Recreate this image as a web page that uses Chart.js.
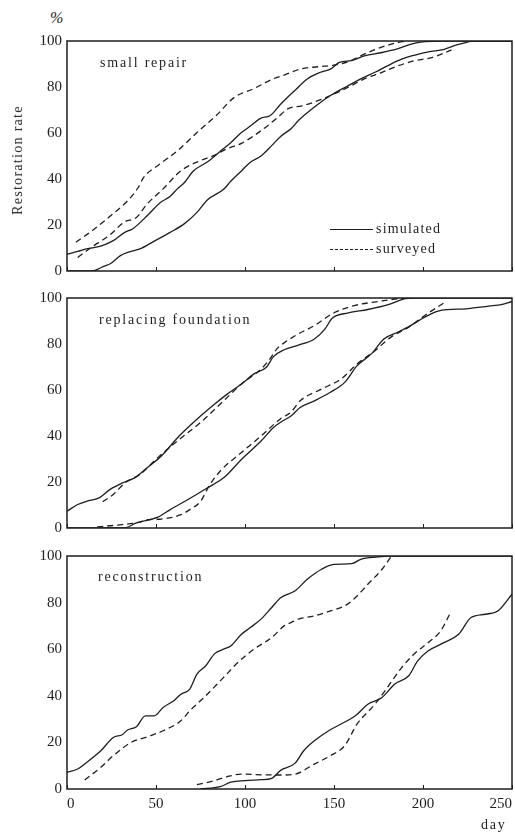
<!DOCTYPE html>
<html>
<head>
<meta charset="utf-8">
<script src="https://cdn.jsdelivr.net/npm/chart.js@4.4.1/dist/chart.umd.min.js"></script>
<style>
  body { margin: 0; background: #fff; width: 515px; height: 832px; position: relative; overflow: hidden;
         font-family: "Liberation Serif", "DejaVu Serif", serif; color: #1e1e1e; }
  canvas { position: absolute; left: 0; }
  .txt { position: absolute; font-size: 14px; line-height: 14px; letter-spacing: 1.8px; white-space: nowrap; }
  .ytitle { position: absolute; left: 18px; top: 160px; font-size: 14px; line-height: 14px; letter-spacing: 1.3px;
            white-space: nowrap; transform: translate(-50%, -50%) rotate(-90deg); }
  .swatch { position: absolute; left: 330px; width: 43px; height: 0; border-top: 1.3px solid #1e1e1e; }
  .swatch.dash { border-top: 1.4px dashed #1e1e1e; }
</style>
</head>
<body>
<canvas id="c1" width="515" height="250" style="top:30px"></canvas>
<canvas id="c2" width="515" height="252" style="top:285px"></canvas>
<canvas id="c3" width="515" height="287" style="top:545px"></canvas>

<div class="txt" style="left:50px;top:11px;font-size:16px;letter-spacing:0;font-style:italic">%</div>
<div class="ytitle">Restoration rate</div>
<div class="txt" style="left:100px;top:56px">small repair</div>
<div class="txt" style="left:99px;top:313px">replacing foundation</div>
<div class="txt" style="left:98px;top:570px">reconstruction</div>
<div class="swatch" style="top:229px"></div>
<div class="txt" style="left:376px;top:222px;letter-spacing:1.2px">simulated</div>
<div class="swatch dash" style="top:249px"></div>
<div class="txt" style="left:376px;top:242px;letter-spacing:1.2px">surveyed</div>
<div class="txt" style="left:481px;top:818px">day</div>

<script>
// axis ticks
const dayTicks = [0, 50, 100, 150, 200, 250];
const rateTicks = [0, 20, 40, 60, 80, 100];

// small repair: [day, restoration rate %]
const repairSimEarly = [[0,7.3],[6,8.5],[11,9.6],[19,10.8],[26,13.2],[32,16.6],[37,18.4],[45,24],[52,29.5],[58,32.5],[62,35.7],[66,38.5],[71,43.5],[79,47.5],[86,52],[92,55.8],[98,60.2],[103,63],[109,66.5],[114,67.5],[120,72.5],[128,78.5],[135,83.5],[142,86.3],[148,87.8],[153,90.7],[160,91.5],[167,93.5],[177,95],[186,96.7],[195,99],[201,99.7],[210,100],[250,100]];
const repairSimLate = [[0,0],[14,0],[20,1.8],[25,3.5],[30,6.7],[35,8.3],[41,9.6],[49,13],[58,16.8],[66,20.6],[73,25.5],[79,31],[88,35.5],[92,39],[98,43.5],[103,47.3],[109,50],[115,54.5],[120,58.5],[126,62],[130,65.4],[139,71.3],[148,76.3],[158,80.6],[165,83.5],[173,86.4],[180,89.2],[188,92.1],[195,93.8],[203,95.3],[212,96.4],[218,98.1],[224,99.3],[228,100],[250,100]];
const repairSurvEarly = [[5,12.5],[15,18],[24,23.7],[34,30.5],[40,36.3],[43,40.6],[52,46.4],[62,52.2],[73,60.2],[84,67.7],[94,75.5],[105,79.3],[116,83.6],[122,85.2],[131,87.8],[141,88.8],[150,89.5],[158,91],[167,94.3],[176,97.1],[184,99],[190,100]];
const repairSurvLate = [[6,5.9],[15,11],[24,15.6],[32,21.2],[39,23.3],[45,29.1],[54,35.7],[64,43.6],[75,48],[83,50.4],[90,53.2],[98,55.5],[109,61],[118,66.5],[124,70.5],[132,71.8],[139,73.5],[148,76.3],[158,79.9],[167,83.5],[177,86.4],[186,89.2],[195,91.4],[205,92.8],[216,96.1]];

// replacing foundation
const foundSimEarly = [[0,7.3],[6,10.2],[11,11.6],[18,13.1],[24,16.7],[32,19.9],[38,21.8],[45,26.2],[53,31.3],[63,40],[73,47.3],[83,53.9],[90,58.2],[98,62.6],[105,67],[112,69.9],[116,74.5],[122,77.5],[130,79.5],[139,82.2],[145,86.6],[149,91.2],[158,93.5],[169,95],[180,97],[190,99.7],[195,100],[250,100]];
const foundSimLate = [[0,0],[32,0],[39,2.2],[51,4.7],[58,8],[68,12.4],[79,17.5],[88,21.8],[98,29.8],[109,37.8],[116,43.7],[120,46],[126,48.8],[131,52.4],[139,55.3],[148,59],[156,63.3],[163,70.6],[171,75.7],[178,82.2],[186,85.2],[193,88],[201,91.7],[210,94.6],[224,95.3],[237,96.5],[244,97.1],[250,98.5]];
const foundSurvEarly = [[20,11.4],[26,14.6],[33,19.9],[41,23.3],[51,30.6],[62,37.8],[75,45.9],[88,55.3],[98,62.6],[109,69.1],[114,73.5],[118,78],[122,80.5],[130,84.4],[139,88],[150,93.6],[162,96.8],[175,98.5],[186,99.7],[192,100]];
const foundSurvLate = [[17,0.5],[30,1.4],[41,2.6],[45,3.6],[53,3.9],[64,5.8],[69,8],[75,11.6],[80,18.5],[86,24.7],[98,32.8],[109,40],[120,47.5],[126,50.5],[131,55.3],[143,60.4],[154,64.8],[163,71.3],[173,77.1],[182,83],[192,87.3],[201,92.4],[212,98]];

// reconstruction
const reconSimEarly = [[0,7.1],[6,8.6],[11,11.4],[19,16.4],[26,22.1],[31,23.3],[34,25.3],[39,26.7],[44,31.4],[49,31.4],[54,35],[60,37.9],[64,40.7],[69,42.9],[73,49.3],[78,52.9],[83,58.1],[88,60],[92,61.4],[98,66.4],[103,69.3],[109,72.9],[115,77.9],[120,82.1],[128,85],[135,90],[143,94.3],[150,96.4],[160,96.7],[165,98.6],[175,99.6],[180,100],[250,100]];
const reconSimLate = [[75,0],[86,1],[92,2.9],[100,3.6],[109,4],[115,4.6],[120,8],[128,11],[133,16.4],[139,20.7],[147,25],[154,27.9],[162,31.4],[169,36.4],[177,39.3],[184,45],[192,48.6],[197,55],[203,59.3],[212,62.9],[220,66.4],[227,73.6],[235,75],[242,76.4],[250,83.6]];
const reconSurvEarly = [[10,3.9],[19,9.3],[26,14.3],[36,20],[45,22.4],[54,25],[64,29.3],[69,33.6],[77,39.3],[88,47.9],[96,54.3],[105,60],[115,65],[122,70],[126,71.5],[130,72.9],[139,74.3],[148,76.4],[156,78.6],[162,82.1],[169,87.9],[177,94.3],[182,99.6]];
const reconSurvLate = [[73,1.9],[83,3.6],[90,5.3],[98,6.4],[109,6.1],[120,6],[127,6.2],[139,10.7],[148,14.3],[156,18.6],[163,27.9],[173,36.4],[180,43.6],[188,52.1],[195,57.9],[203,62.9],[210,67.9],[215,75]];

const ink = "#1e1e1e";
const serif = "'Liberation Serif', 'DejaVu Serif', serif";

// box round the plot and short inward ticks on the bottom axis
const frameTicks = {
    id: "frameTicks",
    afterDatasetsDraw(chart) {
        const { ctx, chartArea: a, scales: { x } } = chart;
        ctx.save();
        ctx.strokeStyle = ink;
        ctx.lineWidth = 1.5;
        ctx.strokeRect(a.left, a.top, a.right - a.left, a.bottom - a.top);
        ctx.lineWidth = 1;
        x.ticks.forEach(t => {
            const px = Math.round(x.getPixelForValue(t.value)) + 0.5;
            ctx.beginPath();
            ctx.moveTo(px, a.bottom);
            ctx.lineTo(px, a.bottom - 4);
            ctx.stroke();
        });
        ctx.restore();
    }
};

function series(points, dashed) {
    return {
        data: points.map(([x, y]) => ({ x, y })),
        borderColor: ink,
        borderWidth: 1.3,
        borderDash: dashed ? [6, 4] : [],
        pointRadius: 0,
        cubicInterpolationMode: "monotone",
        fill: false
    };
}

function drawPanel(id, lines, padTop, xHeight, showDays) {
    return new Chart(document.getElementById(id), {
        type: "line",
        data: {
            datasets: [
                series(lines[0], false),
                series(lines[1], false),
                series(lines[2], true),
                series(lines[3], true)
            ]
        },
        options: {
            responsive: false,
            animation: false,
            devicePixelRatio: 1,
            layout: { padding: { top: padTop, right: 3, bottom: 0, left: 0 } },
            plugins: { legend: { display: false }, tooltip: { enabled: false } },
            scales: {
                x: {
                    type: "linear",
                    min: 0,
                    max: 250,
                    afterBuildTicks: s => { s.ticks = dayTicks.map(v => ({ value: v })); },
                    afterFit: s => { s.height = xHeight; s.paddingLeft = 0; s.paddingRight = 0; },
                    grid: { display: false, drawTicks: false },
                    border: { display: false },
                    ticks: {
                        display: showDays,
                        align: "inner",
                        color: ink,
                        padding: 6,
                        maxRotation: 0,
                        font: { family: serif, size: 15 }
                    }
                },
                y: {
                    min: 0,
                    max: 100,
                    afterBuildTicks: s => { s.ticks = rateTicks.map(v => ({ value: v })); },
                    afterFit: s => { s.width = 67; s.paddingTop = 0; s.paddingBottom = 0; },
                    grid: { display: false, drawTicks: false },
                    border: { display: false },
                    ticks: {
                        color: ink,
                        padding: 5,
                        font: { family: serif, size: 15 }
                    }
                }
            }
        },
        plugins: [frameTicks]
    });
}

drawPanel("c1", [repairSimEarly, repairSimLate, repairSurvEarly, repairSurvLate], 11, 9, false);
drawPanel("c2", [foundSimEarly, foundSimLate, foundSurvEarly, foundSurvLate], 13, 9, false);
drawPanel("c3", [reconSimEarly, reconSimLate, reconSurvEarly, reconSurvLate], 11, 43, true);
</script>
</body>
</html>
